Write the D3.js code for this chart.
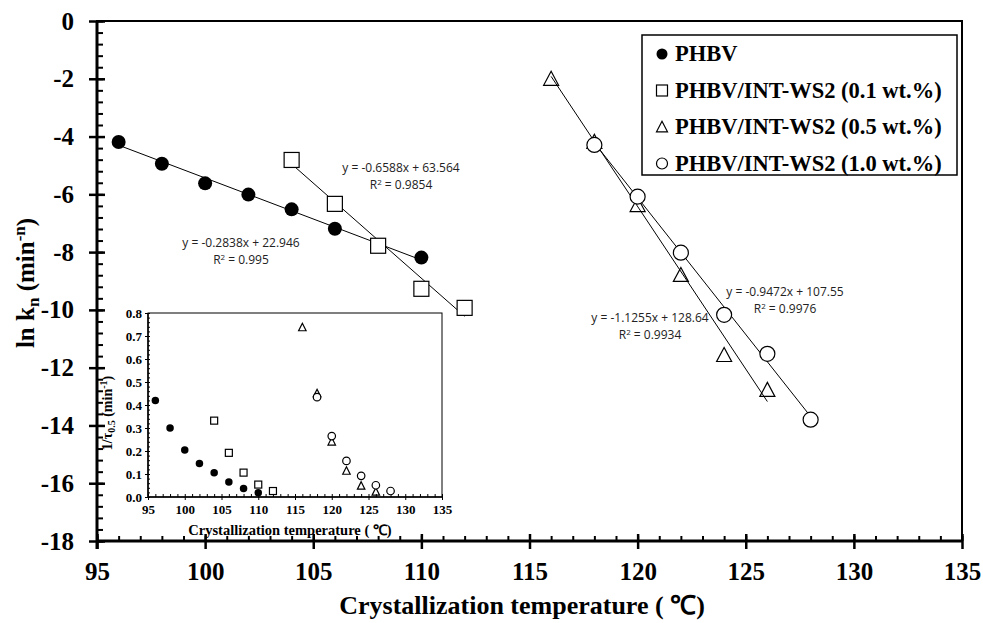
<!DOCTYPE html>
<html>
<head>
<meta charset="UTF-8" />
<title>ln kn vs crystallization temperature</title>
<script src="https://d3js.org/d3.v7.min.js"></script>
<style>
  body { margin: 0; background: #fff; }
  .serif { font-family: "Liberation Serif", "Times New Roman", serif; font-weight: bold; }
  .eq { font-family: "Open Sans", sans-serif; font-size: 12px; fill: #222; }
  .domain { display: none; }
</style>
</head>
<body>
<div id="main"></div>
<script>
// ---- data ----
var seriesNames = ['PHBV', 'PHBV/INT-WS2 (0.1 wt.%)', 'PHBV/INT-WS2 (0.5 wt.%)', 'PHBV/INT-WS2 (1.0 wt.%)'];
var symbols = ['dot', 'square', 'triangle', 'circle'];

var tempPHBV = [96, 98, 100, 102, 104, 106, 108, 110];
var tempWS01 = [104, 106, 108, 110, 112];
var tempWS05 = [116, 118, 120, 122, 124, 126];
var tempWS10 = [118, 120, 122, 124, 126, 128];

var lnkPHBV = [-4.19, -4.94, -5.62, -6.01, -6.52, -7.19, -7.78, -8.19];
var lnkWS01 = [-4.81, -6.33, -7.78, -9.27, -9.93];
var lnkWS05 = [-2.0, -4.18, -6.37, -8.79, -11.56, -12.77];
var lnkWS10 = [-4.29, -6.08, -8.02, -10.17, -11.52, -13.8];

var rateWS00 = [0.42, 0.30, 0.204, 0.146, 0.105, 0.065, 0.037, 0.018];
var rateWS01 = [0.332, 0.192, 0.106, 0.054, 0.026];
var rateWS05 = [0.737, 0.45, 0.24, 0.113, 0.048, 0.022];
var rateWS10 = [0.434, 0.265, 0.157, 0.092, 0.051, 0.026];

var slopes = [-0.2838, -0.6588, -1.1255, -0.9472];
var intercepts = [22.946, 63.564, 128.64, 107.55];
var r2 = ['0.995', '0.9854', '0.9934', '0.9976'];

var xTicks = [95, 100, 105, 110, 115, 120, 125, 130, 135];
var yTicks = [0, -2, -4, -6, -8, -10, -12, -14, -16, -18];
var insetYTicks = [0, 0.1, 0.2, 0.3, 0.4, 0.5, 0.6, 0.7, 0.8];

var temps = [tempPHBV, tempWS01, tempWS05, tempWS10];
var lnks = [lnkPHBV, lnkWS01, lnkWS05, lnkWS10];
var rates = [rateWS00, rateWS01, rateWS05, rateWS10];

var width = 983, height = 623;

var svg = d3.select('#main').append('svg')
  .attr('width', width).attr('height', height)
  .style('background', '#fff');

var x = d3.scaleLinear().domain([95, 135]).range([97, 962]);
var y = d3.scaleLinear().domain([-18, 0]).range([541, 21]);

// plain hyphen minus, like the original
var fmtInt = function (d) { return String(d); };

// symbol drawer
function drawSym(g, kind, cx, cy, s) {
  if (kind === 'dot') {
    g.append('circle').attr('cx', cx).attr('cy', cy).attr('r', s / 2).attr('fill', '#000');
  } else if (kind === 'circle') {
    g.append('circle').attr('cx', cx).attr('cy', cy).attr('r', s / 2)
      .attr('fill', '#fff').attr('stroke', '#000').attr('stroke-width', 1.2);
  } else if (kind === 'square') {
    g.append('rect').attr('x', cx - s / 2).attr('y', cy - s / 2).attr('width', s).attr('height', s)
      .attr('fill', '#fff').attr('stroke', '#000').attr('stroke-width', 1.2);
  } else {
    var h = s * 0.87;
    g.append('path')
      .attr('d', 'M' + cx + ',' + (cy - h / 2 - 1) + 'L' + (cx + s / 2) + ',' + (cy + h / 2) + 'L' + (cx - s / 2) + ',' + (cy + h / 2) + 'Z')
      .attr('fill', 'none').attr('stroke', '#000').attr('stroke-width', 1.2);
  }
}

// frame
svg.append('rect')
  .attr('x', x(95)).attr('y', y(0))
  .attr('width', x(135) - x(95)).attr('height', y(-18) - y(0))
  .attr('fill', 'none').attr('stroke', '#000').attr('stroke-width', 2);

// bottom axis: minor inward, major crossing
svg.append('g').attr('transform', 'translate(0,' + y(-18) + ')')
  .call(d3.axisBottom(x).tickValues(d3.range(95, 136, 1)).tickSize(-5).tickFormat(''))
  .selectAll('line').attr('stroke-width', 2);
var xa = svg.append('g').attr('class', 'serif').attr('transform', 'translate(0,' + y(-18) + ')')
  .call(d3.axisBottom(x).tickValues(xTicks).tickSizeInner(8).tickSizeOuter(0).tickPadding(13).tickFormat(fmtInt));
xa.selectAll('.tick line').attr('y1', -7).attr('stroke-width', 2.5);
xa.selectAll('text').attr('font-size', 25).attr('fill', '#000');

// left axis
svg.append('g').attr('transform', 'translate(' + x(95) + ',0)')
  .call(d3.axisLeft(y).tickValues(d3.range(0, 18.01, 0.4).map(function (v) { return -v; })).tickSize(-6).tickFormat(''))
  .selectAll('line').attr('stroke-width', 2);
var ya = svg.append('g').attr('class', 'serif').attr('transform', 'translate(' + x(95) + ',0)')
  .call(d3.axisLeft(y).tickValues(yTicks).tickSizeInner(8).tickSizeOuter(0).tickPadding(15).tickFormat(fmtInt));
ya.selectAll('.tick line').attr('x1', 8).attr('stroke-width', 2.5);
ya.selectAll('text').attr('font-size', 25).attr('fill', '#000');

// thick axis lines
svg.append('line').attr('x1', x(95)).attr('x2', x(135)).attr('y1', y(-18)).attr('y2', y(-18))
  .attr('stroke', '#000').attr('stroke-width', 3);
svg.append('line').attr('x1', x(95)).attr('x2', x(95)).attr('y1', y(0)).attr('y2', y(-18) + 8)
  .attr('stroke', '#000').attr('stroke-width', 3);

// axis titles
svg.append('text').attr('class', 'serif')
  .attr('x', 522).attr('y', 614).attr('text-anchor', 'middle').attr('font-size', 26)
  .text('Crystallization temperature ( ℃)');
var yt = svg.append('text').attr('class', 'serif')
  .attr('transform', 'translate(34,' + 283 + ') rotate(-90)')
  .attr('text-anchor', 'middle').attr('font-size', 25);
yt.append('tspan').text('ln k');
yt.append('tspan').attr('font-size', 17).attr('dy', 5).text('n');
yt.append('tspan').attr('dy', -5).text(' (min');
yt.append('tspan').attr('font-size', 17).attr('dy', -9).text('-n');
yt.append('tspan').attr('dy', 9).text(')');

// ---- inset ----
var ix = d3.scaleLinear().domain([95, 135]).range([148, 442]);
var iy = d3.scaleLinear().domain([0, 0.8]).range([497, 313]);
var inset = svg.append('g');
inset.append('rect').attr('x', ix(95)).attr('y', iy(0.8))
  .attr('width', ix(135) - ix(95)).attr('height', iy(0) - iy(0.8))
  .attr('fill', '#fff').attr('stroke', '#000').attr('stroke-width', 1);
inset.append('g').attr('transform', 'translate(0,' + iy(0) + ')')
  .call(d3.axisBottom(ix).tickValues(d3.range(95, 136, 1)).tickSize(-3).tickFormat(''));
var ixa = inset.append('g').attr('class', 'serif').attr('transform', 'translate(0,' + iy(0) + ')')
  .call(d3.axisBottom(ix).tickValues(xTicks).tickSizeInner(3).tickSizeOuter(0).tickPadding(5).tickFormat(fmtInt));
ixa.selectAll('text').attr('font-size', 13).attr('fill', '#000');
inset.append('g').attr('transform', 'translate(' + ix(95) + ',0)')
  .call(d3.axisLeft(iy).tickValues(d3.range(0, 0.801, 0.02)).tickSize(-2).tickFormat(''));
var iya = inset.append('g').attr('class', 'serif').attr('transform', 'translate(' + ix(95) + ',0)')
  .call(d3.axisLeft(iy).tickValues(insetYTicks).tickSizeInner(3).tickSizeOuter(0).tickPadding(3).tickFormat(d3.format('.1f')));
iya.selectAll('text').attr('font-size', 13).attr('fill', '#000');
inset.append('line').attr('x1', ix(95)).attr('x2', ix(135)).attr('y1', iy(0)).attr('y2', iy(0))
  .attr('stroke', '#000').attr('stroke-width', 1.5);
inset.append('line').attr('x1', ix(95)).attr('x2', ix(95)).attr('y1', iy(0)).attr('y2', iy(0.8))
  .attr('stroke', '#000').attr('stroke-width', 1.5);
inset.append('text').attr('class', 'serif')
  .attr('x', 290).attr('y', 535).attr('text-anchor', 'middle').attr('font-size', 14.5)
  .text('Crystallization  temperature ( ℃)');
var iyt = inset.append('text').attr('class', 'serif')
  .attr('transform', 'translate(112,' + 413 + ') rotate(-90)')
  .attr('text-anchor', 'middle').attr('font-size', 14);
iyt.append('tspan').text('1/τ');
iyt.append('tspan').attr('font-size', 10).attr('dy', 3).text('0.5');
iyt.append('tspan').attr('dy', -3).text(' (min');
iyt.append('tspan').attr('font-size', 10).attr('dy', -5).text('-1');
iyt.append('tspan').attr('dy', 5).text(')');

var insetSizes = [7.5, 7, 7.5, 7.5];
rates.forEach(function (vals, i) {
  var g = inset.append('g');
  vals.forEach(function (v, j) {
    drawSym(g, symbols[i], ix(temps[i][j]), iy(v), insetSizes[i]);
  });
});

// ---- main series: trendlines then markers ----
temps.forEach(function (t, i) {
  var x0 = d3.min(t), x1 = d3.max(t);
  svg.append('line')
    .attr('x1', x(x0)).attr('y1', y(slopes[i] * x0 + intercepts[i]))
    .attr('x2', x(x1)).attr('y2', y(slopes[i] * x1 + intercepts[i]))
    .attr('stroke', '#000').attr('stroke-width', 1);
});
var mainSizes = [14, 15, 15, 15];
lnks.forEach(function (vals, i) {
  var g = svg.append('g');
  vals.forEach(function (v, j) {
    drawSym(g, symbols[i], x(temps[i][j]), y(v), mainSizes[i]);
  });
});

// trendline equations
var eqPos = [[241, 243], [401, 168], [650, 318], [785, 292]];
slopes.forEach(function (s, i) {
  var t = svg.append('text').attr('class', 'eq').attr('text-anchor', 'middle')
    .attr('x', eqPos[i][0]).attr('y', eqPos[i][1] + 4);
  t.text('y = ' + s + 'x + ' + intercepts[i]);
  var r = svg.append('text').attr('class', 'eq').attr('text-anchor', 'middle')
    .attr('x', eqPos[i][0]).attr('y', eqPos[i][1] + 21);
  r.append('tspan').text('R');
  r.append('tspan').attr('font-size', 8).attr('dy', -4).text('2');
  r.append('tspan').attr('dy', 4).text(' = ' + r2[i]);
});

// ---- legend ----
var lg = svg.append('g');
lg.append('rect').attr('x', 642).attr('y', 35).attr('width', 315).attr('height', 140)
  .attr('fill', '#fff').attr('stroke', '#000').attr('stroke-width', 1.5);
seriesNames.forEach(function (name, i) {
  var cy = 54 + i * 36.5;
  drawSym(lg, symbols[i], 662, cy, 11);
  lg.append('text').attr('class', 'serif').attr('x', 675).attr('y', cy + 7)
    .attr('font-size', 22.5).text(name);
});
</script>
</body>
</html>
